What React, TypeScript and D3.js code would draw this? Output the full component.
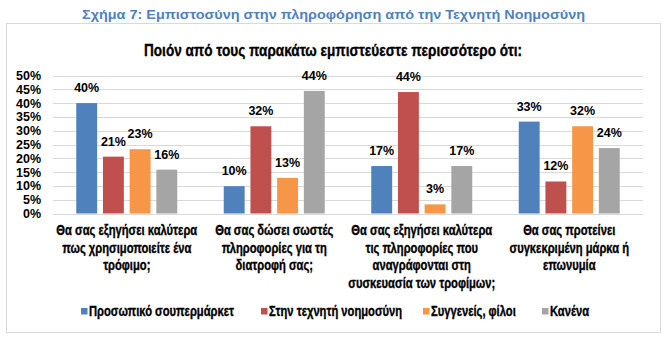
import React from "react";
import * as d3 from "d3";

const categories: string[][] = [
  ["Θα σας εξηγήσει καλύτερα", "πως χρησιμοποιείτε ένα", "τρόφιμο;"],
  ["Θα σας δώσει σωστές", "πληροφορίες για τη", "διατροφή σας;"],
  ["Θα σας εξηγήσει καλύτερα", "τις πληροφορίες που", "αναγράφονται στη", "συσκευασία των τροφίμων;"],
  ["Θα σας προτείνει", "συγκεκριμένη μάρκα ή", "επωνυμία"],
];
const seriesNames = ["Προσωπικό σουπερμάρκετ", "Στην τεχνητή νοημοσύνη", "Συγγενείς, φίλοι", "Κανένα"];
const seriesColors = ["#4f81bd", "#c0504d", "#f79646", "#a5a5a5"];
const values: number[][] = [
  [40.0, 20.6, 23.3, 15.9],
  [9.9, 31.6, 12.9, 44.4],
  [17.2, 44.0, 3.3, 17.2],
  [33.3, 11.6, 31.6, 23.7],
];
const labels: string[][] = [
  ["40%", "21%", "23%", "16%"],
  ["10%", "32%", "13%", "44%"],
  ["17%", "44%", "3%", "17%"],
  ["33%", "12%", "32%", "24%"],
];
const yTicks = [0, 5, 10, 15, 20, 25, 30, 35, 40, 45, 50];
const legendX = [81, 261, 423, 542];

const SANS = "'Liberation Sans', Arial, sans-serif";
const NS = 0.8;

function Narrow({ x, y, size, anchor = "start", children }: { x: number; y: number; size: number; anchor?: string; children: React.ReactNode }) {
  return (
    <text
      transform={`translate(${x},${y}) scale(${NS},1)`}
      textAnchor={anchor}
      fontFamily={SANS}
      fontWeight="bold"
      fontSize={size}
      fill="#000"
      stroke="#000"
      strokeWidth={0.35}
    >
      {children}
    </text>
  );
}

export default function App() {
  const W = 671, H = 351;
  const x0 = d3.scaleBand<number>().domain(d3.range(4)).range([53, 643]).padding(0);
  const innerW = 101;
  const x1 = d3.scaleBand<number>().domain(d3.range(4)).range([0, innerW]).paddingInner(0.217).paddingOuter(0);
  const y = d3.scaleLinear().domain([0, 50]).range([213.5, 75.5]);
  const off = (x0.bandwidth() - innerW) / 2;

  return (
    <svg width={W} height={H} style={{ position: "absolute", left: 0, top: 0 }}>
      <rect x={0} y={0} width={W} height={H} fill="#fff" />
      <text x={82} y={19} textLength={503} lengthAdjust="spacingAndGlyphs" fontFamily={SANS} fontWeight="bold" fontSize={13.5} fill="#4f81bd">
        Σχήμα 7: Εμπιστοσύνη στην πληροφόρηση από την Τεχνητή Νοημοσύνη
      </text>
      <rect x={6.5} y={23.5} width={654} height={309} fill="#fff" stroke="#d9d9d9" strokeWidth={1} />
      <text x={144} y={55.5} textLength={378} lengthAdjust="spacingAndGlyphs" fontFamily={SANS} fontWeight="bold" fontSize={16.5} fill="#000" stroke="#000" strokeWidth={0.35}>
        Ποιόν από τους παρακάτω εμπιστεύεστε περισσότερο ότι:
      </text>
      {yTicks.map((t) => (
        <g key={t}>
          <line x1={53} x2={643} y1={Math.round(y(t)) + 0.5} y2={Math.round(y(t)) + 0.5} stroke="#d9d9d9" strokeWidth={1} />
          <text x={41} y={y(t) + 4.5} textAnchor="end" fontFamily={SANS} fontWeight="bold" fontSize={12.5} fill="#000">
            {t}%
          </text>
        </g>
      ))}
      {values.map((row, gi) =>
        row.map((v, si) => {
          const bx = (x0(gi) as number) + off + (x1(si) as number);
          return (
            <g key={`${gi}-${si}`}>
              <rect x={bx} y={y(v)} width={x1.bandwidth()} height={y(0) - y(v)} fill={seriesColors[si]} />
              <text x={bx + x1.bandwidth() / 2} y={y(v) - 11} textAnchor="middle" fontFamily={SANS} fontWeight="bold" fontSize={12.5} fill="#000">
                {labels[gi][si]}
              </text>
            </g>
          );
        })
      )}
      {categories.map((lines, gi) =>
        lines.map((l, li) => (
          <Narrow key={`${gi}-${li}`} x={(x0(gi) as number) + x0.bandwidth() / 2} y={235 + li * 17.7} size={14} anchor="middle">
            {l}
          </Narrow>
        ))
      )}
      {seriesNames.map((n, i) => (
        <g key={n}>
          <rect x={legendX[i]} y={308} width={6.5} height={6.5} fill={seriesColors[i]} />
          <Narrow x={legendX[i] + 8} y={315.5} size={14}>
            {n}
          </Narrow>
        </g>
      ))}
    </svg>
  );
}
